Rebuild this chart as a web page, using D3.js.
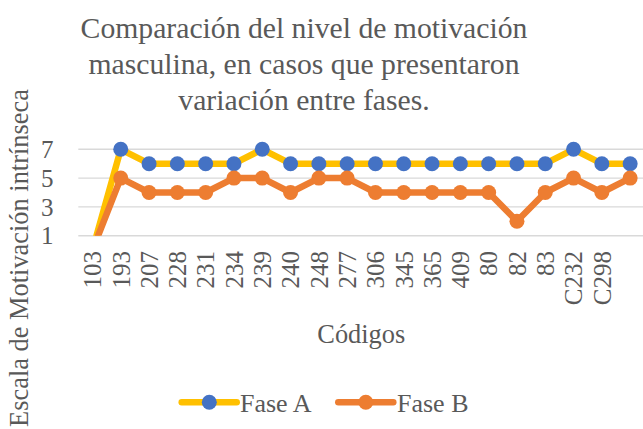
<!DOCTYPE html>
<html>
<head>
<meta charset="utf-8">
<script src="https://cdnjs.cloudflare.com/ajax/libs/d3/7.8.5/d3.min.js"></script>
<style>
  html, body { margin: 0; padding: 0; background: #ffffff; }
  svg { display: block; }
  svg text { font-family: "Liberation Serif", "Tinos", "Times New Roman", Times, "DejaVu Serif", serif; fill: #595959; }
</style>
</head>
<body>
<svg id="chart" width="643" height="429"></svg>
<script>
const titleLines = ["Comparación del nivel de motivación", "masculina, en casos que presentaron", "variación entre fases."];
const categories = ["103","193","207","228","231","234","239","240","248","277","306","345","365","409","80","82","83","C232","C298",""];
const faseA = [0,7,6,6,6,6,7,6,6,6,6,6,6,6,6,6,6,7,6,6];
const faseB = [0,5,4,4,4,5,5,4,5,5,4,4,4,4,4,2,4,5,4,5];
const yTicks = [1,3,5,7];
const seriesNames = ["Fase A", "Fase B"];
const yTitle = "Escala de Motivación intrínseca";
const xTitle = "Códigos";

const FONT = '"Liberation Serif", "Tinos", "Times New Roman", Times, "DejaVu Serif", serif';
const svg = d3.select("#chart");
const W = 643, H = 429;
const plot = { left: 78.3, right: 644.3, top: 149.3, bottom: 235.7 };

const x = d3.scaleBand().domain(d3.range(categories.length)).range([plot.left, plot.right]);
const cx = i => x(i) + x.bandwidth() / 2;
const y = d3.scaleLinear().domain([1, 7]).range([plot.bottom, plot.top]);

// Title
const title = svg.append("text").attr("text-anchor", "middle").attr("font-family", FONT).style("font-size", "29.7px");
titleLines.forEach((t, i) => {
  title.append("tspan").attr("x", 304).attr("y", 38 + i * 36).text(t);
});

// Gridlines
svg.append("g").selectAll("line").data(yTicks).join("line")
  .attr("x1", plot.left).attr("x2", plot.right)
  .attr("y1", d => y(d)).attr("y2", d => y(d))
  .attr("stroke", "#d9d9d9").attr("stroke-width", 1.4);

// Y tick labels
svg.append("g").selectAll("text").data(yTicks).join("text")
  .attr("x", 53.5).attr("y", d => y(d)).attr("dy", "0.35em")
  .attr("text-anchor", "end").attr("font-family", FONT).style("font-size", "25px")
  .text(d => d);

// X tick labels
svg.append("g").selectAll("text").data(categories).join("text")
  .attr("transform", (d, i) => `translate(${cx(i)},251) rotate(-90)`)
  .attr("dy", "0.35em").attr("text-anchor", "end").attr("font-family", FONT).style("font-size", "25px")
  .text(d => d);

// Axis titles
svg.append("text").attr("transform", "translate(28.3,258) rotate(-90)")
  .attr("text-anchor", "middle").attr("font-family", FONT).style("font-size", "26.4px").text(yTitle);
svg.append("text").attr("x", (plot.left + plot.right) / 2).attr("y", 343)
  .attr("text-anchor", "middle").attr("font-family", FONT).style("font-size", "26.4px").text(xTitle);

// Clip
svg.append("defs").append("clipPath").attr("id", "clip")
  .append("rect").attr("x", 0).attr("y", 0).attr("width", W).attr("height", plot.bottom);

const series = [
  { name: seriesNames[0], values: faseA, line: "#FFC000", marker: "#4472C4" },
  { name: seriesNames[1], values: faseB, line: "#ED7D31", marker: "#ED7D31" }
];

const lineGen = d3.line().x((d, i) => cx(i)).y(d => y(d));

series.forEach(s => {
  const g = svg.append("g");
  g.append("path").attr("d", lineGen(s.values)).attr("clip-path", "url(#clip)")
    .attr("fill", "none").attr("stroke", s.line).attr("stroke-width", 6.5)
    .attr("stroke-linejoin", "round").attr("stroke-linecap", "round");
  g.selectAll("circle").data(s.values.map((v, i) => ({ v, i })).filter(d => d.v >= 1)).join("circle")
    .attr("cx", d => cx(d.i)).attr("cy", d => y(d.v)).attr("r", 7.5)
    .attr("fill", s.marker);
});

// Legend
const legendItems = [
  { x1: 181.7, x2: 236.7, mx: 209.3, tx: 240, s: series[0] },
  { x1: 338.3, x2: 393.3, mx: 365.8, tx: 397, s: series[1] }
];
legendItems.forEach(l => {
  const g = svg.append("g");
  g.append("line").attr("x1", l.x1).attr("x2", l.x2).attr("y1", 402.3).attr("y2", 402.3)
    .attr("stroke", l.s.line).attr("stroke-width", 6.5).attr("stroke-linecap", "round");
  g.append("circle").attr("cx", l.mx).attr("cy", 402.3).attr("r", 7.5).attr("fill", l.s.marker);
  g.append("text").attr("x", l.tx).attr("y", 411.5).attr("font-family", FONT).style("font-size", "26px").text(l.s.name);
});
</script>
</body>
</html>
